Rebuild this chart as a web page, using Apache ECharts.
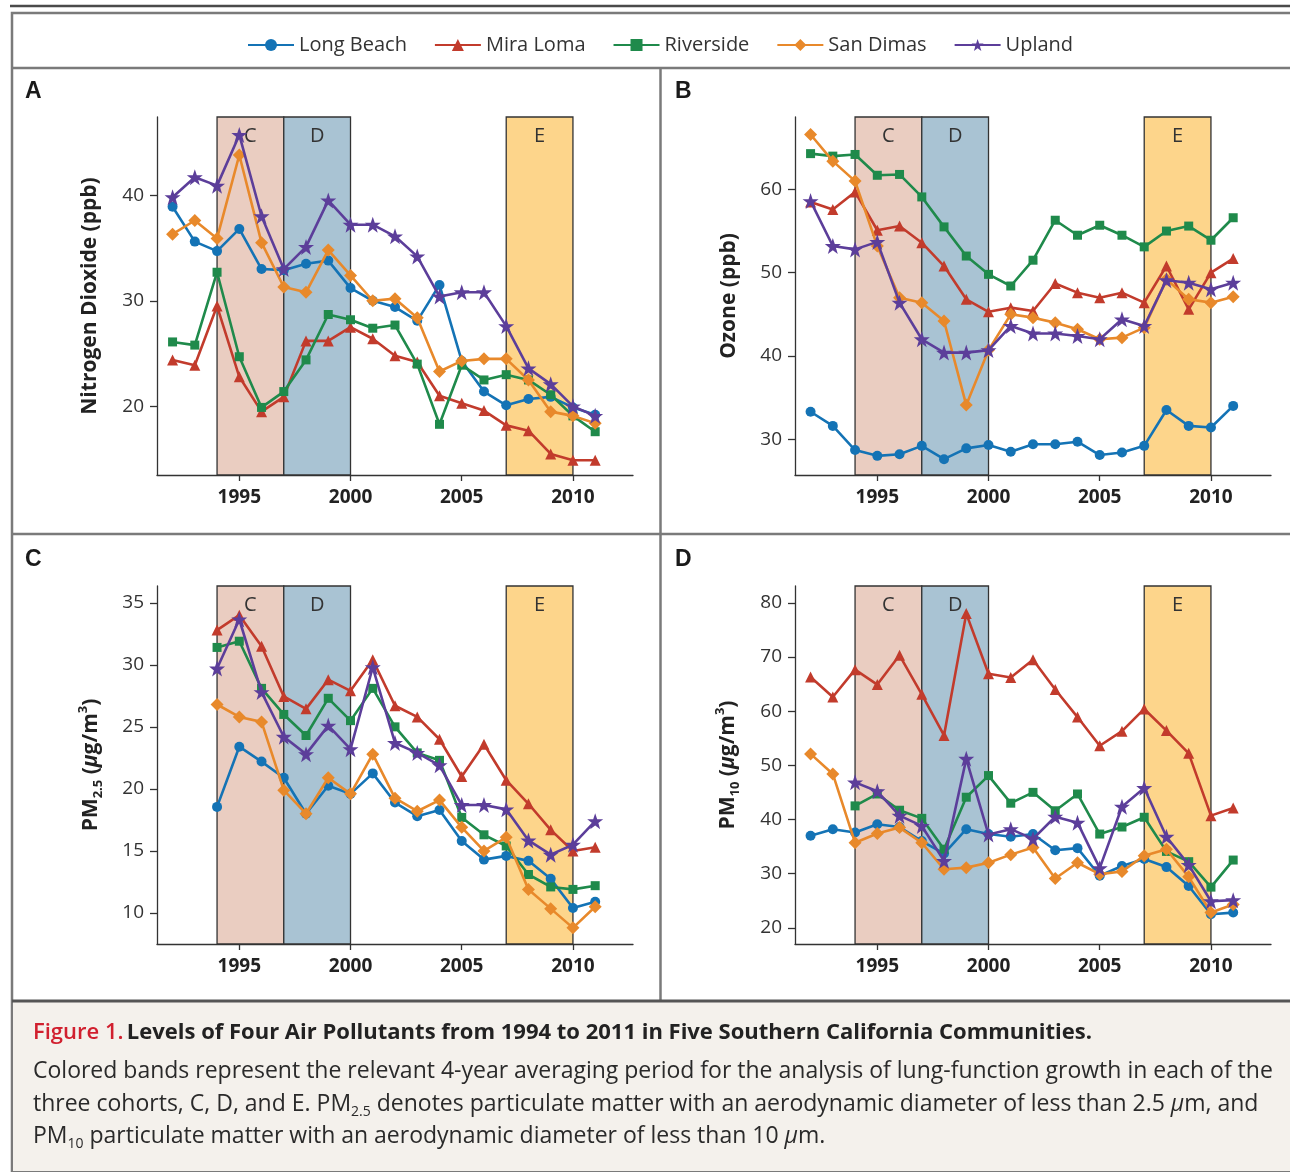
<!DOCTYPE html>
<html><head><meta charset="utf-8">
<script src="https://cdn.jsdelivr.net/npm/echarts@6/dist/echarts.min.js"></script>
<style>html,body{margin:0;padding:0;background:#fff}#c{width:1290px;height:1172px}</style>
</head><body><div id="c"></div><script>
// ---------- data ----------
const years = [1992,1993,1994,1995,1996,1997,1998,1999,2000,2001,2002,2003,2004,2005,2006,2007,2008,2009,2010,2011];
const cities = ['Long Beach','Mira Loma','Riverside','San Dimas','Upland'];
const xTicks = [1995,2000,2005,2010];

// Panel A: Nitrogen dioxide (ppb)
const no2LongBeach = [38.9,35.6,34.7,36.8,33.0,32.9,33.5,33.8,31.2,30.0,29.4,28.1,31.5,24.3,21.4,20.1,20.7,20.9,19.9,19.2];
const no2MiraLoma  = [24.4,23.9,29.5,22.8,19.5,20.9,26.2,26.2,27.5,26.4,24.8,24.2,21.0,20.3,19.6,18.2,17.7,15.5,14.9,14.9];
const no2Riverside = [26.1,25.8,32.7,24.7,19.9,21.4,24.4,28.7,28.2,27.4,27.7,24.0,18.3,23.9,22.5,23.0,22.5,21.1,19.1,17.6];
const no2SanDimas  = [36.3,37.6,35.9,43.8,35.5,31.3,30.8,34.8,32.4,30.0,30.2,28.4,23.3,24.3,24.5,24.5,22.5,19.5,19.1,18.4];
const no2Upland    = [39.8,41.7,40.9,45.7,38.0,33.0,35.1,39.5,37.2,37.2,36.1,34.2,30.4,30.8,30.8,27.6,23.6,22.1,20.0,19.1];
const no2Ticks = [20,30,40];

// Panel B: Ozone (ppb)
const o3LongBeach = [33.3,31.6,28.7,28.0,28.2,29.2,27.6,28.9,29.3,28.5,29.4,29.4,29.7,28.1,28.4,29.2,33.5,31.6,31.4,34.0];
const o3MiraLoma  = [58.5,57.6,59.7,55.1,55.6,53.6,50.8,46.8,45.3,45.8,45.4,48.7,47.6,47.0,47.6,46.4,50.8,45.6,50.0,51.7];
const o3Riverside = [64.3,64.0,64.2,61.7,61.8,59.1,55.5,52.0,49.8,48.4,51.5,56.3,54.5,55.7,54.5,53.1,55.0,55.6,53.9,56.6];
const o3SanDimas  = [66.6,63.4,61.0,53.2,47.0,46.4,44.2,34.1,40.7,45.0,44.6,44.0,43.2,42.0,42.2,43.4,49.2,46.8,46.4,47.1];
const o3Upland    = [58.6,53.2,52.8,53.7,46.4,42.0,40.4,40.4,40.7,43.6,42.7,42.7,42.4,42.0,44.4,43.6,49.1,48.8,48.0,48.8];
const o3Ticks = [30,40,50,60];

// Panel C: PM2.5 (ug/m3)
const pm25LongBeach = [null,null,18.55,23.4,22.2,20.9,18.0,20.25,19.6,21.25,18.9,17.8,18.3,15.8,14.3,14.6,14.2,12.75,10.4,10.9];
const pm25MiraLoma  = [null,null,32.8,34.0,31.5,27.45,26.45,28.8,27.9,30.4,26.7,25.8,24.0,21.0,23.6,20.7,18.8,16.7,15.0,15.3];
const pm25Riverside = [null,null,31.4,31.9,28.1,26.0,24.3,27.3,25.5,28.1,25.0,22.9,22.3,17.7,16.3,15.4,13.1,12.1,11.9,12.2];
const pm25SanDimas  = [null,null,26.8,25.8,25.4,19.9,18.0,20.9,19.6,22.8,19.25,18.2,19.1,16.9,15.0,16.1,11.9,10.35,8.8,10.5];
const pm25Upland    = [null,null,29.7,33.65,27.8,24.2,22.8,25.1,23.2,29.8,23.7,22.9,21.9,18.7,18.7,18.35,15.85,14.7,15.5,17.4];
const pm25Ticks = [10,15,20,25,30,35];

// Panel D: PM10 (ug/m3)
const pm10LongBeach = [37.0,38.2,37.6,39.1,38.6,36.0,33.7,38.2,37.3,36.8,37.3,34.3,34.7,29.6,31.4,32.7,31.2,27.7,22.5,22.8];
const pm10MiraLoma  = [66.3,62.6,67.65,64.9,70.3,63.1,55.5,78.0,66.9,66.2,69.5,64.0,58.9,53.6,56.3,60.4,56.4,52.2,40.7,42.1];
const pm10Riverside = [null,null,42.5,44.7,41.7,40.2,34.5,44.1,48.1,43.0,45.0,41.6,44.7,37.3,38.6,40.4,34.1,32.2,27.5,32.5];
const pm10SanDimas  = [52.1,48.4,35.7,37.4,38.5,35.7,30.8,31.1,32.0,33.5,34.8,29.1,32.0,29.9,30.4,33.3,34.5,29.4,22.8,24.3];
const pm10Upland    = [null,null,46.85,45.2,40.7,38.8,32.35,51.2,37.2,38.2,36.4,40.5,39.4,31.0,42.35,45.8,36.8,31.6,24.9,25.1];
const pm10Ticks = [20,30,40,50,60,70,80];

// Cohort bands (4-year averaging periods)
const bandNames = ['C','D','E'];
const bandStart = [1994,1997,2007];
const bandEnd   = [1997,2000,2010];

// ---------- styling ----------
const FONT = '"Open Sans", "Noto Sans", sans-serif';
const colors = ['#1473b5','#c23b2c','#1f8a4b','#e8892b','#5c3e9a'];
const star = 'path://M12,0 L14.9,8.3 L23.6,8.3 L16.6,13.5 L19.2,21.9 L12,16.8 L4.8,21.9 L7.4,13.5 L0.4,8.3 L9.1,8.3 Z';
const symbols = ['circle','triangle','rect','diamond',star];
const symSizes = [10,11,9,13,16];
const bandColors = ['#eacdc1','#a9c3d3','#fdd58b'];

const panels = [
  {sets:[no2LongBeach,no2MiraLoma,no2Riverside,no2SanDimas,no2Upland], ticks:no2Ticks, min:13.5, max:47.4,
   name:'Nitrogen Dioxide (ppb)', left:157, top:117, gap:56},
  {sets:[o3LongBeach,o3MiraLoma,o3Riverside,o3SanDimas,o3Upland], ticks:o3Ticks, min:25.7, max:68.7,
   name:'Ozone (ppb)', left:795, top:117, gap:55},
  {sets:[pm25LongBeach,pm25MiraLoma,pm25Riverside,pm25SanDimas,pm25Upland], ticks:pm25Ticks, min:7.5, max:36.35,
   name:'{n|PM}{sub|2.5}{n| (}{i|μ}{n|g/m}{sup|3}{n|)}', left:157, top:586, gap:52},
  {sets:[pm10LongBeach,pm10MiraLoma,pm10Riverside,pm10SanDimas,pm10Upland], ticks:pm10Ticks, min:17.0, max:83.1,
   name:'{n|PM}{sub|10}{n| (}{i|μ}{n|g/m}{sup|3}{n|)}', left:795, top:586, gap:53}
];

const nameRich = {
  n:{fontSize:21,fontWeight:'bold',color:'#222',fontFamily:FONT,lineHeight:28},
  i:{fontSize:21,fontWeight:'bold',fontStyle:'italic',color:'#222',fontFamily:FONT,lineHeight:28},
  sub:{fontSize:13,fontWeight:'bold',color:'#222',fontFamily:FONT,verticalAlign:'bottom',lineHeight:14},
  sup:{fontSize:13,fontWeight:'bold',color:'#222',fontFamily:FONT,verticalAlign:'top',lineHeight:14}
};

const grids=[], xAxes=[], yAxes=[], series=[];
panels.forEach((p,gi)=>{
  grids.push({left:p.left, top:p.top, width:476, height:358});
  xAxes.push({type:'value', gridIndex:gi, min:1991.3, max:2012.7,
    splitLine:{show:false},
    axisLine:{lineStyle:{color:'#333',width:1.3}},
    axisTick:{show:true, customValues:xTicks, length:6, lineStyle:{color:'#333',width:1.3}},
    axisLabel:{customValues:xTicks, formatter:v=>String(v), fontSize:19, fontWeight:'bold', color:'#222', margin:13, fontFamily:FONT}
  });
  yAxes.push({type:'value', gridIndex:gi, min:p.min, max:p.max,
    splitLine:{show:false},
    axisLine:{show:true, lineStyle:{color:'#333',width:1.3}},
    axisTick:{show:true, customValues:p.ticks, length:7, lineStyle:{color:'#333',width:1.3}},
    axisLabel:{customValues:p.ticks, fontSize:19, color:'#333', margin:13, fontFamily:FONT},
    name:p.name, nameLocation:'middle', nameGap:p.gap, nameRotate:90,
    nameTextStyle:{fontSize:21, fontWeight:'bold', color:'#222', fontFamily:FONT, rich:nameRich}
  });
  p.sets.forEach((vals,si)=>{
    const data=[];
    years.forEach((y,k)=>{ if(vals[k]!==null) data.push([y,vals[k]]); });
    const s = {type:'line', name:cities[si], xAxisIndex:gi, yAxisIndex:gi, data,
      symbol:symbols[si], symbolSize:symSizes[si], showAllSymbol:true,
      lineStyle:{color:colors[si], width:2.6}, itemStyle:{color:colors[si]},
      z:3+si, animation:false};
    if(si===0){
      s.markArea = {silent:true, z:1,
        label:{show:true, position:'insideTop', distance:10, fontSize:20, color:'#333', fontFamily:FONT},
        data: bandNames.map((b,k)=>[
          {name:b, xAxis:bandStart[k], itemStyle:{color:bandColors[k], borderColor:'#333', borderWidth:1.3}},
          {xAxis:bandEnd[k]}
        ])
      };
    }
    series.push(s);
  });
});

const GRAY='#7a7a7a';
const capFont = FONT;
const CS = 23;
const TXT = '#2a2a2a';
const capRich = {
  n:{fontSize:CS,fontFamily:capFont,fill:TXT,lineHeight:30},
  i:{fontSize:CS,fontFamily:capFont,fontStyle:'italic',fill:TXT,lineHeight:30},
  s:{fontSize:14,fontFamily:capFont,fill:TXT,verticalAlign:'bottom',lineHeight:15}
};
const letterFont = 'bold 23px "Liberation Sans", Arial, sans-serif';
const graphic = [
  {type:'line', shape:{x1:10,y1:6,x2:1290,y2:6}, style:{stroke:'#4a4a4a',lineWidth:2.5}},
  {type:'rect', shape:{x:12,y:13,width:1290,height:1158}, style:{fill:null,stroke:GRAY,lineWidth:2.5}},
  {type:'line', shape:{x1:12,y1:68,x2:1290,y2:68}, style:{stroke:GRAY,lineWidth:2.5}},
  {type:'line', shape:{x1:660.5,y1:68,x2:660.5,y2:1001}, style:{stroke:GRAY,lineWidth:2.5}},
  {type:'line', shape:{x1:12,y1:534,x2:1290,y2:534}, style:{stroke:GRAY,lineWidth:2.5}},
  {type:'rect', shape:{x:13,y:1001,width:1290,height:170}, style:{fill:'#f4f1ec',stroke:null}},
  {type:'line', shape:{x1:12,y1:1001,x2:1290,y2:1001}, style:{stroke:'#555',lineWidth:3}},
  {type:'text', x:25, y:92, style:{text:'A', font:letterFont, fill:'#1a1a1a', textVerticalAlign:'middle'}},
  {type:'text', x:675, y:92, style:{text:'B', font:letterFont, fill:'#1a1a1a', textVerticalAlign:'middle'}},
  {type:'text', x:25, y:560, style:{text:'C', font:letterFont, fill:'#1a1a1a', textVerticalAlign:'middle'}},
  {type:'text', x:675, y:560, style:{text:'D', font:letterFont, fill:'#1a1a1a', textVerticalAlign:'middle'}},
  {type:'text', x:33, y:1033, style:{
    text:'{r|Figure 1.} {b|Levels of Four Air Pollutants from 1994 to 2011 in Five Southern California Communities.}',
    textVerticalAlign:'middle',
    rich:{r:{fontSize:22,fontWeight:600,fontFamily:capFont,fill:'#d1202f'},
          b:{fontSize:22,fontWeight:'bold',fontFamily:capFont,fill:'#222'}}
  }},
  {type:'text', x:33, y:1071, style:{
    text:'{n|Colored bands represent the relevant 4-year averaging period for the analysis of lung-function growth in each of the}',
    textVerticalAlign:'middle', rich:capRich}},
  {type:'text', x:33, y:1104, style:{
    text:'{n|three cohorts, C, D, and E. PM}{s|2.5}{n| denotes particulate matter with an aerodynamic diameter of less than 2.5 }{i|μ}{n|m, and}',
    textVerticalAlign:'middle', rich:capRich}},
  {type:'text', x:33, y:1136, style:{
    text:'{n|PM}{s|10}{n| particulate matter with an aerodynamic diameter of less than 10 }{i|μ}{n|m.}',
    textVerticalAlign:'middle', rich:capRich}}
];

const chart = echarts.init(document.getElementById('c'), null, {renderer:'canvas'});
chart.setOption({
  animation:false,
  backgroundColor:'#fff',
  legend:{data:cities, left:242, top:30, itemWidth:46, itemHeight:15, itemGap:27,
    textStyle:{fontSize:20, color:'#333', fontFamily:FONT}},
  grid:grids, xAxis:xAxes, yAxis:yAxes, series, graphic
});
</script></body></html>
